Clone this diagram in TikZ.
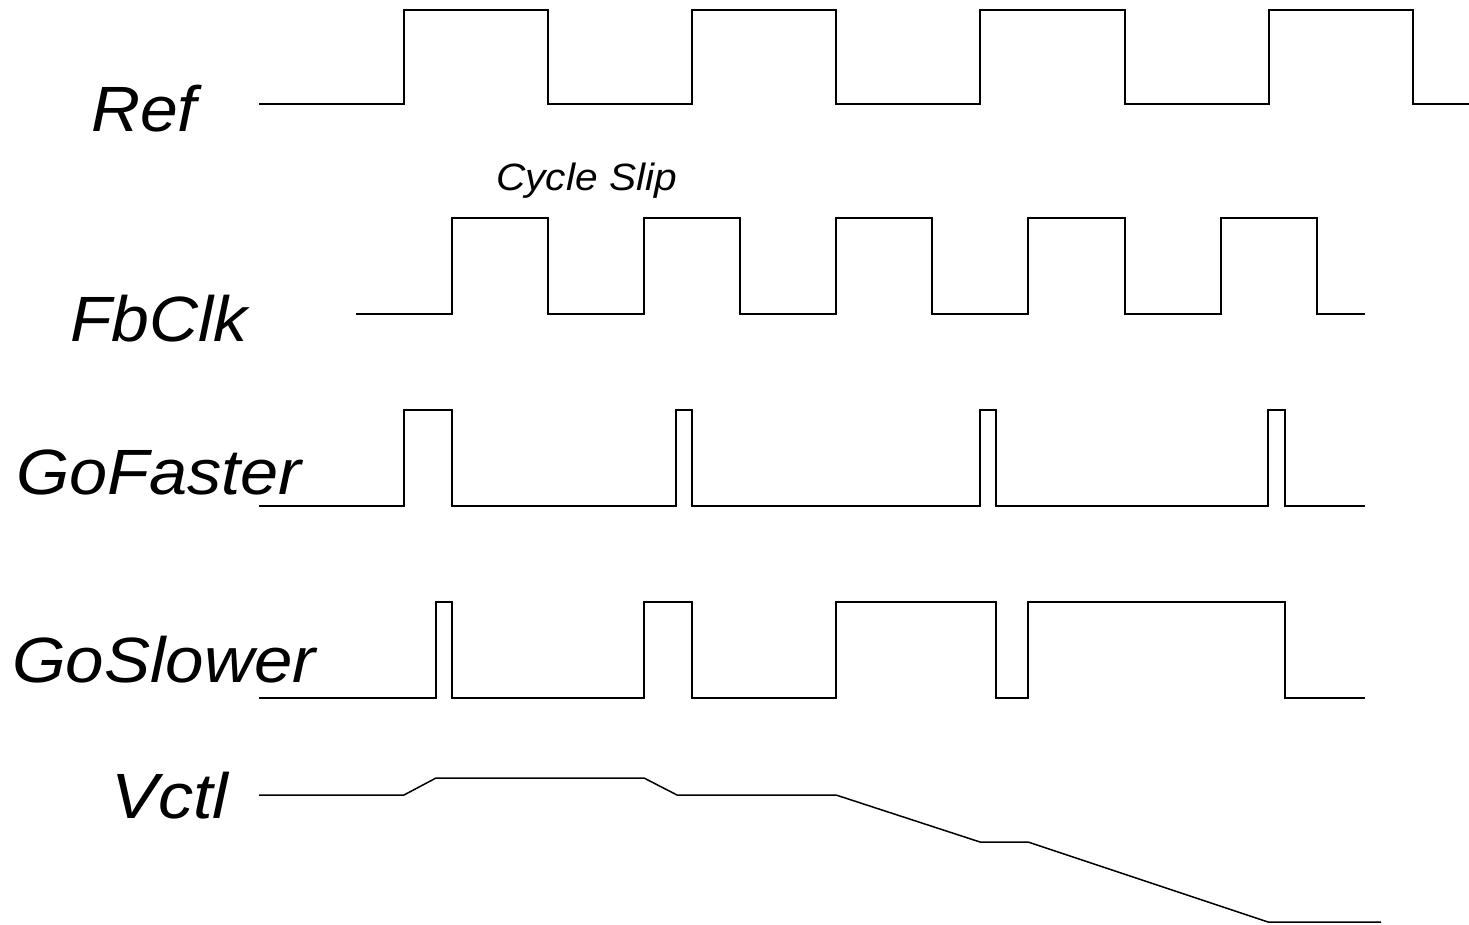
\documentclass[tikz,border=0pt]{standalone}
\usepackage{fontspec}
\setmainfont{Liberation Sans}
\begin{document}
\begin{tikzpicture}[x=1pt,y=-1pt,
  wave/.style={line width=1.5pt,line join=miter,black},
  siglabel/.style={anchor=base west,inner sep=0pt,font=\fontsize{64}{70}\selectfont\itshape},
  smalllabel/.style={anchor=base west,inner sep=0pt,font=\fontsize{38}{42}\selectfont\itshape}]
\useasboundingbox (0,0) rectangle (1469,925);
% labels
\node[siglabel] (lref) at (91,132) {\scalebox{1.06}[1]{Ref}};
\node[siglabel] (lfb) at (70,341) {\scalebox{1.06}[1]{FbClk}};
\node[siglabel] (lfast) at (16,494) {\scalebox{1.07}[1]{GoFaster}};
\node[siglabel] (lslow) at (12,682) {\scalebox{1.08}[1]{GoSlower}};
\node[siglabel] (lvctl) at (111,818) {\scalebox{1.1}[1]{Vctl}};
\node[smalllabel] (lslip) at (496,191) {\scalebox{1.07}[1]{Cycle Slip}};
% Ref
\draw[wave] (259,104) -- (404,104) -- (404,10) -- (548,10) -- (548,104) -- (692,104) -- (692,10) -- (836,10) -- (836,104) -- (980,104) -- (980,10) -- (1125,10) -- (1125,104) -- (1269,104) -- (1269,10) -- (1413,10) -- (1413,104) -- (1469,104);
% FbClk
\draw[wave] (356,314) -- (452,314) -- (452,218) -- (548,218) -- (548,314) -- (644,314) -- (644,218) -- (740,218) -- (740,314) -- (836,314) -- (836,218) -- (932,218) -- (932,314) -- (1028,314) -- (1028,218) -- (1125,218) -- (1125,314) -- (1221,314) -- (1221,218) -- (1317,218) -- (1317,314) -- (1365,314);
% GoFaster
\draw[wave] (259,506) -- (404,506) -- (404,410) -- (452,410) -- (452,506) -- (676,506) -- (676,410) -- (692,410) -- (692,506) -- (980,506) -- (980,410) -- (996,410) -- (996,506) -- (1268,506) -- (1268,410) -- (1285,410) -- (1285,506) -- (1365,506);
% GoSlower
\draw[wave] (259,698) -- (436,698) -- (436,602) -- (452,602) -- (452,698) -- (644,698) -- (644,602) -- (692,602) -- (692,698) -- (836,698) -- (836,602) -- (996,602) -- (996,698) -- (1028,698) -- (1028,602) -- (1285,602) -- (1285,698) -- (1365,698);
% Vctl
\draw[wave] (259,795) -- (404,795) -- (436,778) -- (644,778) -- (677,795) -- (836,795) -- (980,842) -- (1028,842) -- (1268,922) -- (1381,922);
\end{tikzpicture}
\end{document}
